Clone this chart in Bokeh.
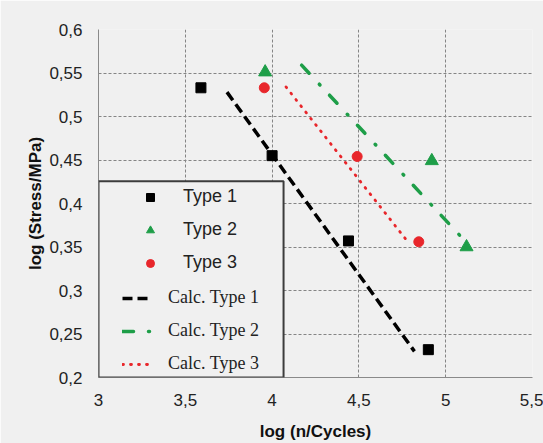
from bokeh.plotting import figure
from bokeh.models import (FixedTicker, Legend, LegendItem, BoxAnnotation, Range1d)
from bokeh.embed import file_html
from bokeh.resources import INLINE

# ---- data ----
type1_x = [3.59, 4.00, 4.44, 4.90]
type1_y = [0.533, 0.455, 0.357, 0.232]
type2_x = [3.96, 4.92, 5.12]
type2_y = [0.551, 0.449, 0.350]
type3_x = [3.955, 4.49, 4.845]
type3_y = [0.533, 0.454, 0.356]

calc1_x = [3.74, 4.82]
calc1_y = [0.528, 0.230]
calc2_x = [4.17, 5.12]
calc2_y = [0.559, 0.355]
calc3_x = [4.08, 4.77]
calc3_y = [0.534, 0.359]

x_ticks = [3, 3.5, 4, 4.5, 5, 5.5]
x_tick_labels = ["3", "3,5", "4", "4,5", "5", "5,5"]
y_ticks = [0.2, 0.25, 0.3, 0.35, 0.4, 0.45, 0.5, 0.55, 0.6]
y_tick_labels = ["0,2", "0,25", "0,3", "0,35", "0,4", "0,45", "0,5", "0,55", "0,6"]

series_labels = ["Type 1", "Type 2", "Type 3"]
calc_labels = ["Calc. Type 1", "Calc. Type 2", "Calc. Type 3"]

BG = "#f0f0f0"
GREEN = "#1e9e48"
RED = "#e8262b"
SANS = "Liberation Sans"
SERIF = "Liberation Serif"

p = figure(width=543, height=443, output_backend="svg", toolbar_location=None,
           x_range=Range1d(3, 5.5), y_range=Range1d(0.2, 0.6),
           min_border_left=98, min_border_top=29, min_border_right=11,
           min_border_bottom=62)
p.background_fill_color = BG
p.border_fill_color = BG
p.outline_line_color = None

for ax, ticks, labels in ((p.xaxis[0], x_ticks, x_tick_labels),
                          (p.yaxis[0], y_ticks, y_tick_labels)):
    ax.ticker = FixedTicker(ticks=ticks)
    ax.major_label_overrides = {t: l for t, l in zip(ticks, labels)}
    ax.major_tick_line_color = None
    ax.minor_tick_line_color = None
    ax.major_tick_out = 0
    ax.major_tick_in = 0
    ax.axis_line_color = "#8a8a8a"
    ax.axis_line_width = 1
    ax.major_label_text_font = SANS
    ax.major_label_text_font_size = "17px"
    ax.major_label_text_color = "#222222"
    ax.axis_label_text_font = SANS
    ax.axis_label_text_font_size = "17px"
    ax.axis_label_text_font_style = "bold"
    ax.axis_label_text_color = "#111111"

p.xaxis.axis_label = "log (n/Cycles)"
p.yaxis.axis_label = "log (Stress/MPa)"
p.xaxis.major_label_standoff = 16
p.yaxis.major_label_standoff = 16
p.xaxis.axis_label_standoff = 13
p.yaxis.axis_label_standoff = 1

for g in (p.xgrid[0], p.ygrid[0]):
    g.grid_line_color = "#858585"
    g.grid_line_dash = "3 2"
    g.grid_line_width = 1

s1 = p.scatter(type1_x, type1_y, marker="square", size=10, color="black")
s2 = p.scatter(type2_x, type2_y, marker="triangle", size=13, color=GREEN)
s3 = p.scatter(type3_x, type3_y, marker="circle", size=10, color=RED)

l1 = p.line(calc1_x, calc1_y, line_color="black", line_width=3.5, line_dash="10 5")
l2 = p.line(calc2_x, calc2_y, line_color=GREEN, line_width=3.5,
            line_dash="11 15 1 14", line_cap="round")
l3 = p.line(calc3_x, calc3_y, line_color=RED, line_width=2.8,
            line_dash="1 7", line_cap="round")

# legend box (frame drawn behind the two legends)
box = BoxAnnotation(left=3, right=4.066, bottom=0.2, top=0.4256,
                    fill_color=BG, fill_alpha=1.0,
                    line_color="#3c3c3c", line_alpha=1.0, line_width=2)
p.add_layout(box)

leg1 = Legend(items=[LegendItem(label=l, renderers=[r])
                     for l, r in zip(series_labels, [s1, s2, s3])],
              location=(24, 104), padding=0, margin=0, spacing=12,
              glyph_width=56, glyph_height=20, label_height=20,
              label_standoff=5, border_line_alpha=0, background_fill_alpha=0,
              label_text_font=SANS, label_text_font_size="18px",
              label_text_color="#222222")
leg2 = Legend(items=[LegendItem(label=l, renderers=[r])
                     for l, r in zip(calc_labels, [l1, l2, l3])],
              location=(24, 3), padding=0, margin=0, spacing=12,
              glyph_width=30, glyph_height=20, label_height=20,
              label_standoff=16, border_line_alpha=0, background_fill_alpha=0,
              label_text_font=SERIF, label_text_font_size="18px",
              label_text_color="#222222")
p.add_layout(leg1)
p.add_layout(leg2)

open("out.html", "w").write(file_html(p, INLINE))
